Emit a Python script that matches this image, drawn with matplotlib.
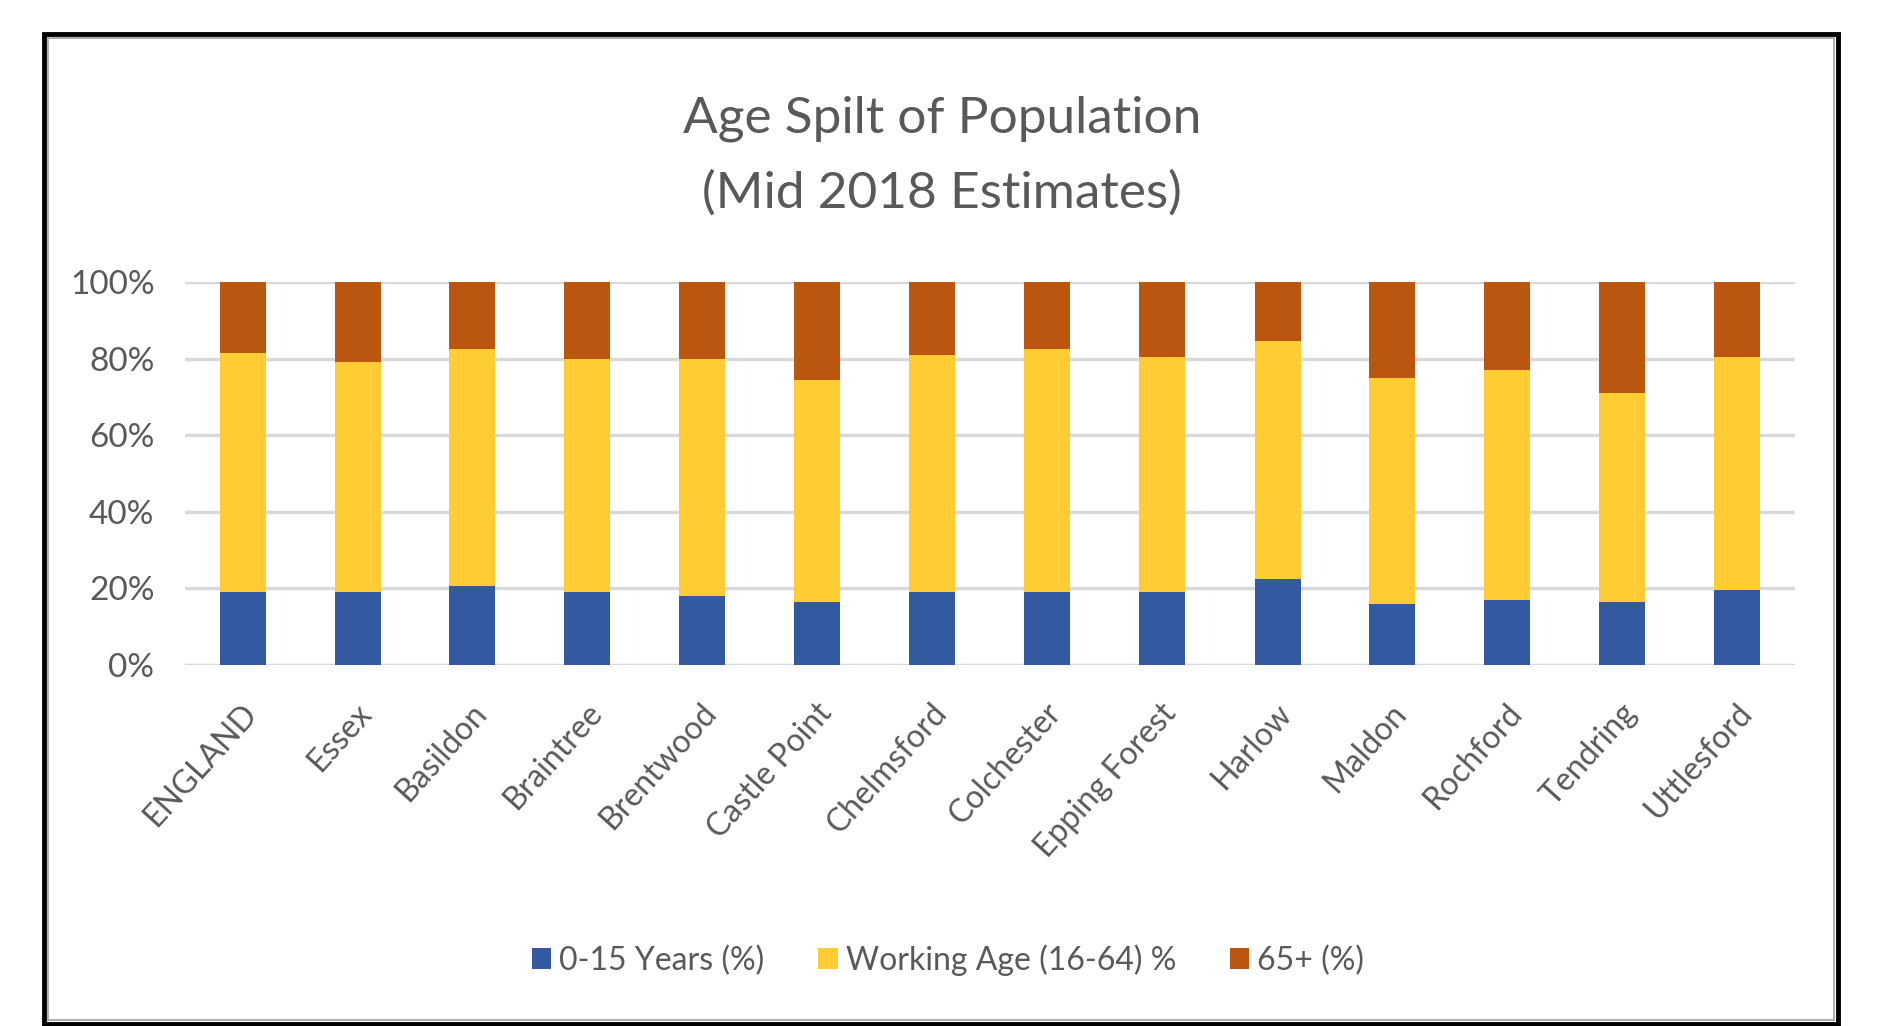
import matplotlib
matplotlib.use("Agg")
import matplotlib.pyplot as plt
from matplotlib.patches import Rectangle
from matplotlib.ticker import PercentFormatter
import matplotlib.transforms as mtrans

# Age split by area, percent of population
areas = ["ENGLAND", "Essex", "Basildon", "Braintree", "Brentwood",
         "Castle Point", "Chelmsford", "Colchester", "Epping Forest",
         "Harlow", "Maldon", "Rochford", "Tendring", "Uttlesford"]
age_0_15 = [19.0, 19.0, 20.5, 19.0, 18.0, 16.5, 19.0, 19.0, 19.0, 22.5,
            16.0, 17.0, 16.5, 19.5]
age_16_64 = [62.5, 60.0, 62.0, 61.0, 62.0, 58.0, 62.0, 63.5, 61.5, 62.0,
             59.0, 60.0, 54.5, 61.0]
age_65_plus = [18.5, 21.0, 17.5, 20.0, 20.0, 25.5, 19.0, 17.5, 19.5, 15.5,
               25.0, 23.0, 29.0, 19.5]
series_labels = ["0-15 Years (%)", "Working Age (16-64) %", "65+ (%)"]

BLUE, YELLOW, ORANGE = "#335AA0", "#FFCC33", "#BA560F"
GREY_TXT = "#595959"

plt.rcParams["font.family"] = ["Lato", "DejaVu Sans"]

fig = plt.figure(figsize=(18.81, 10.26), dpi=100)
ax = fig.add_axes([185 / 1881, 1 - 665 / 1026, 1610 / 1881,
                   (665 - 282) / 1026])

x = list(range(len(areas)))
bottom2 = [a for a in age_0_15]
bottom3 = [a + b for a, b in zip(age_0_15, age_16_64)]
ax.bar(x, age_0_15, width=0.4, color=BLUE, label=series_labels[0], zorder=3)
ax.bar(x, age_16_64, width=0.4, bottom=bottom2, color=YELLOW,
       label=series_labels[1], zorder=3)
ax.bar(x, age_65_plus, width=0.4, bottom=bottom3, color=ORANGE,
       label=series_labels[2], zorder=3)

ax.set_xlim(-0.5, len(areas) - 0.5)
ax.set_ylim(0, 100)
ax.set_yticks(range(0, 101, 20))
ax.yaxis.set_major_formatter(PercentFormatter(decimals=0))
ax.grid(axis="y", color="#D9D9D9", lw=2.5, zorder=0)
for s in ax.spines.values():
    s.set_visible(False)
ax.tick_params(axis="both", length=0, labelsize=24, labelcolor=GREY_TXT)
ax.tick_params(axis="y", pad=22)

ax.set_xticks(x)
ax.set_xticklabels(areas, rotation=48, ha="right", va="center",
                   rotation_mode="anchor", fontsize=23)
ax.tick_params(axis="x", pad=31)
shift = mtrans.ScaledTranslation(9 / 100, 0, fig.dpi_scale_trans)
for lbl in ax.get_xticklabels():
    lbl.set_transform(lbl.get_transform() + shift)

fig.text(0.5008, 1 - 132 / 1026, "Age Spilt of Population", ha="center",
         va="baseline", fontsize=37, color=GREY_TXT)
fig.text(0.5008, 1 - 208 / 1026, "(Mid 2018 Estimates)", ha="center",
         va="baseline", fontsize=37, color=GREY_TXT)

fig.legend(loc="center", bbox_to_anchor=(0.504, 1 - 960 / 1026), ncol=3,
           frameon=False, fontsize=23, labelcolor=GREY_TXT,
           handlelength=0.6, handleheight=0.65, handletextpad=0.25,
           columnspacing=1.7)

# chart frame: black outer line with a thin grey inner line
fig.patches.append(Rectangle((44.5 / 1881, 1 - 1024 / 1026),
                             (1838 - 44.5) / 1881, (1024 - 34) / 1026,
                             transform=fig.transFigure, fill=False,
                             ec="black", lw=3.5))
fig.patches.append(Rectangle((48 / 1881, 1 - 1020 / 1026),
                             (1834 - 48) / 1881, (1020 - 38) / 1026,
                             transform=fig.transFigure, fill=False,
                             ec="#B0B0B0", lw=1.5))

fig.savefig("out.png", dpi=100)
